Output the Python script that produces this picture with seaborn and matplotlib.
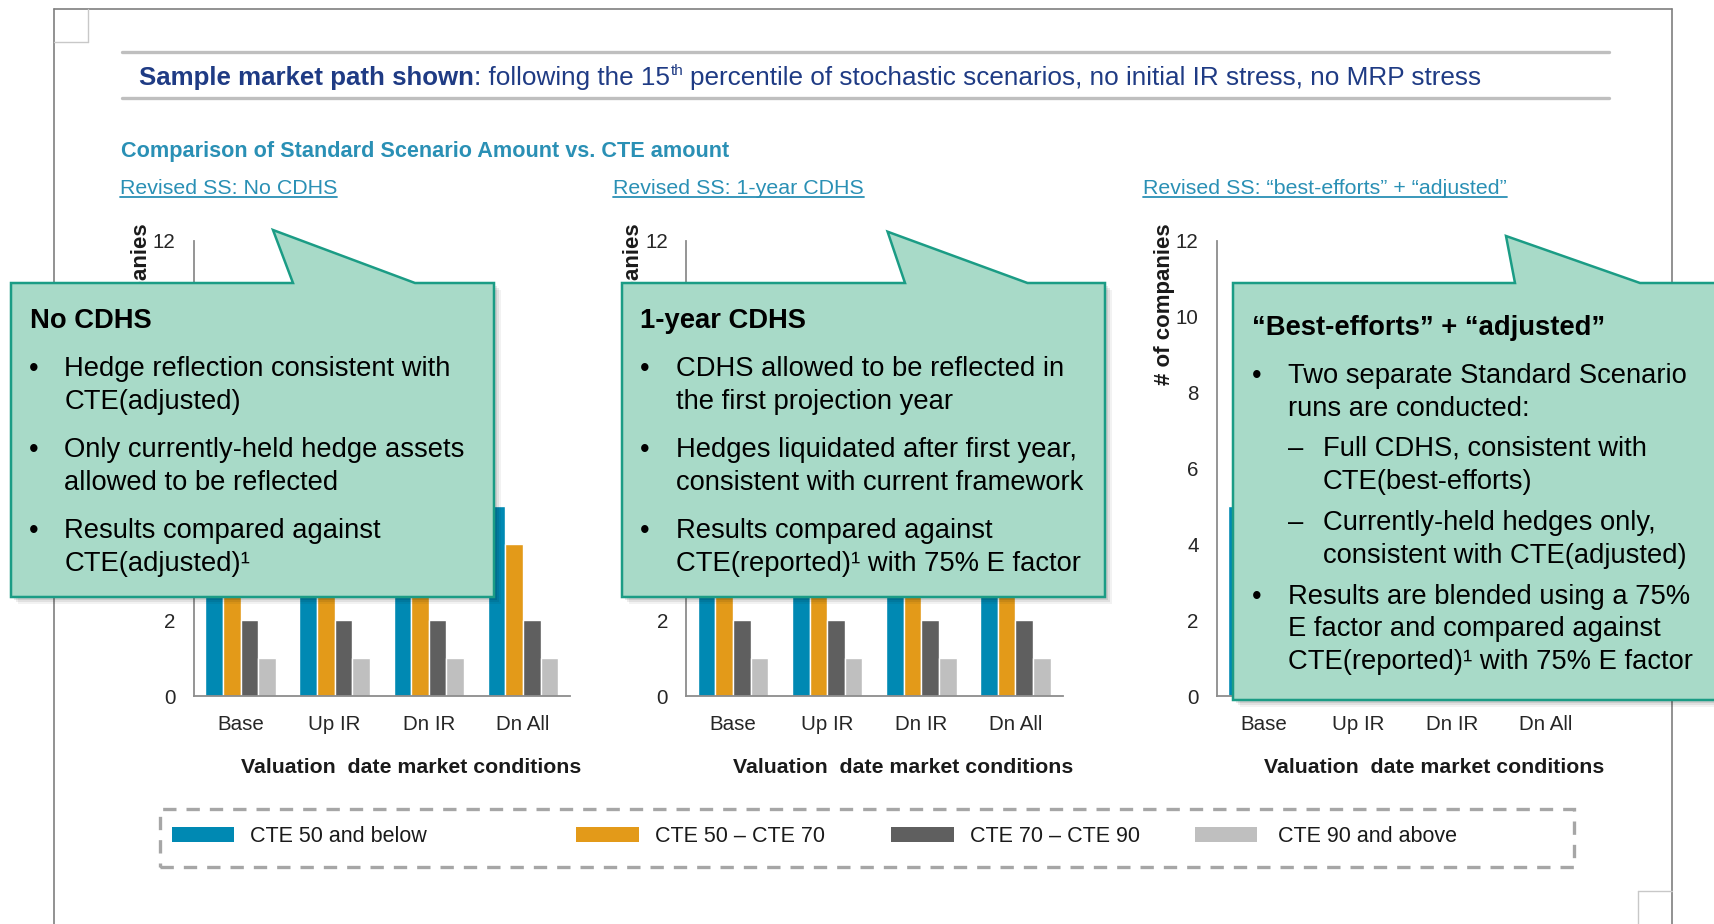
import matplotlib
matplotlib.use("Agg")
import numpy as np
import pandas as pd
import seaborn as sns
import matplotlib.pyplot as plt
from matplotlib.patches import Polygon, Rectangle
from matplotlib.lines import Line2D

# ---- data (bars hidden by the callouts assumed 5/4/2/1 = 12 companies)
categories = ["Base", "Up IR", "Dn IR", "Dn All"]
bands = ["CTE 50 and below", "CTE 50 \u2013 CTE 70", "CTE 70 \u2013 CTE 90", "CTE 90 and above"]
band_colors = ["#0089b3", "#e39a19", "#5f5f5f", "#bfbfbf"]

# rows follow `bands`, columns follow `categories`
no_cdhs = [[5, 5, 5, 5], [4, 4, 4, 4], [2, 2, 2, 2], [1, 1, 1, 1]]
one_year_cdhs = [[5, 5, 5, 5], [4, 4, 4, 4], [2, 2, 2, 2], [1, 1, 1, 1]]
best_efforts_adjusted = [[5, 5, 5, 5], [4, 4, 4, 4], [2, 2, 2, 2], [1, 1, 1, 1]]

panel_titles = ["Revised SS: No CDHS", "Revised SS: 1-year CDHS",
                "Revised SS: \u201cbest-efforts\u201d + \u201cadjusted\u201d"]
y_ticks = [0, 2, 4, 6, 8, 10, 12]

W, H = 1714, 924
sns.set_style("white")
plt.rcParams["font.family"] = ["Liberation Sans", "DejaVu Sans"]

fig = plt.figure(figsize=(W / 100, H / 100), dpi=100)
fig.patch.set_facecolor("white")


def fx(x):
    return x / W


def fy(y):
    return 1 - y / H


def to_frame(counts):
    rows = []
    for band, vals in zip(bands, counts):
        for cat, v in zip(categories, vals):
            rows.append({"condition": cat, "band": band, "companies": v})
    return pd.DataFrame(rows)


def hline(x0, x1, y, **kw):
    fig.add_artist(Line2D([fx(x0), fx(x1)], [fy(y), fy(y)], transform=fig.transFigure, **kw))


def vline(x, y0, y1, **kw):
    fig.add_artist(Line2D([fx(x), fx(x)], [fy(y0), fy(y1)], transform=fig.transFigure, **kw))


# ---- page frame
frame_c = "#7f7f7f"
vline(53.6, 8.7, 930, color=frame_c, lw=1.2, zorder=1)
hline(53.6, 1672, 8.7, color=frame_c, lw=1.2, zorder=1)
vline(1672, 8.7, 930, color=frame_c, lw=1.2, zorder=1)
vline(87.5, 8.7, 41.5, color="#c8c8c8", lw=1, zorder=1)
hline(53.6, 87.5, 41.5, color="#c8c8c8", lw=1, zorder=1)
vline(1637.5, 891, 930, color="#c8c8c8", lw=1, zorder=1)
hline(1637.5, 1672, 891, color="#c8c8c8", lw=1, zorder=1)

# ---- header band
hline(122.4, 1609, 52, color="#bfbfbf", lw=2.4, zorder=1)
hline(122.4, 1609, 98.4, color="#bfbfbf", lw=2.4, zorder=1)

renderer = fig.canvas.get_renderer()
navy = "#1f3b84"


def run(x, y, s, **kw):
    t = fig.text(fx(x), fy(y), s, va="baseline", ha="left", **kw)
    return t.get_window_extent(renderer).x1


hx = run(139, 84.5, "Sample market path shown", fontsize=18.6, fontweight="bold", color=navy)
hx = run(hx, 84.5, ": following the 15", fontsize=18.8, color=navy)
hx = run(hx + 0.5, 75, "th", fontsize=11, color=navy)
run(hx + 7, 84.5, "percentile of stochastic scenarios, no initial IR stress, no MRP stress",
    fontsize=18.8, color=navy)

teal = "#2a90b5"
fig.text(fx(121), fy(157), "Comparison of Standard Scenario Amount vs. CTE amount",
         fontsize=15.6, fontweight="bold", color=teal, va="baseline")

# ---- three bar panels
panel_left = [193.5, 686, 1216.6]
panel_data = [no_cdhs, one_year_cdhs, best_efforts_adjusted]
title_x = [120, 613, 1143]
spine_c = "#8c8c8c"

for i, (left, counts, title, tx) in enumerate(zip(panel_left, panel_data, panel_titles, title_x)):
    ax = fig.add_axes([fx(left), fy(696), 376.5 / W, (696 - 240.5) / H])
    ax.set_zorder(0)
    sns.barplot(data=to_frame(counts), x="condition", y="companies", hue="band",
                order=categories, hue_order=bands, palette=band_colors, saturation=1,
                width=0.75, gap=0, edgecolor="white", linewidth=1,
                errorbar=None, legend=False, ax=ax)
    ax.set_xlim(-0.5, 3.5)
    ax.set_ylim(0, 12)
    ax.set_yticks(y_ticks)
    ax.set_xticks(range(len(categories)))
    ax.set_xticklabels(categories)
    ax.set_xticks(np.arange(-0.5, len(categories), 1), minor=True)
    ax.tick_params(axis="x", which="major", length=0, pad=14, labelsize=14.8, labelcolor="#262626")
    ax.tick_params(axis="x", which="minor", length=6, width=1.2, color=spine_c, direction="out")
    ax.tick_params(axis="y", length=0, pad=13, labelsize=14.8, labelcolor="#262626")
    if i < 2:
        # these tick labels sit behind the callout boxes
        for lab, v in zip(ax.get_yticklabels(), y_ticks):
            if 2 < v < 12:
                lab.set_visible(False)
    for side in ["top", "right"]:
        ax.spines[side].set_visible(False)
    for side in ["left", "bottom"]:
        ax.spines[side].set_color(spine_c)
        ax.spines[side].set_linewidth(1.3)
    ax.set_xlabel("Valuation  date market conditions", fontsize=15.3, fontweight="bold",
                  color="#1a1a1a", va="center")
    ax.xaxis.set_label_coords(0.578, -0.156)
    ax.set_ylabel("# of companies", fontsize=16, fontweight="bold", color="#1a1a1a", va="center")
    ax.yaxis.set_label_coords(-0.139, 0.86)
    ax.patch.set_alpha(0)

    t = fig.text(fx(tx), fy(193.7), title, fontsize=15.4, color=teal, va="baseline")
    bb = t.get_window_extent(renderer)
    hline(bb.x0, bb.x1, 197, color=teal, lw=1.3, zorder=3)

# ---- legend in dashed box
fig.add_artist(Rectangle((fx(159.6), fy(867)), (1574 - 159.6) / W, (867 - 809) / H,
                         transform=fig.transFigure, fill=False, edgecolor="#a6a6a6",
                         lw=2.4, linestyle=(0, (4, 3)), zorder=2))
leg_patch_x = [171.6, 576, 891, 1194.7]
leg_text_x = [250, 654.8, 969.6, 1277.9]
for px, tx, band, col in zip(leg_patch_x, leg_text_x, bands, band_colors):
    fig.add_artist(Rectangle((fx(px), fy(842)), 62.5 / W, 15.5 / H, transform=fig.transFigure,
                             facecolor=col, edgecolor="none", zorder=2))
    fig.text(fx(tx), fy(842), band, fontsize=15.5, color="#1a1a1a", va="baseline")

# ---- callouts
fill_c = "#a8dac8"
edge_c = "#1b9c85"


def callout(L, R, T, B, base_l, tip, base_r):
    pts = [(L, T), (base_l, T), tip, (base_r, T), (R, T), (R, B), (L, B)]
    for off, a in [(7, 0.05), (5, 0.07), (3, 0.09)]:
        sh = [(fx(x + off), fy(y + off)) for x, y in pts]
        fig.add_artist(Polygon(sh, closed=True, transform=fig.transFigure,
                               facecolor="black", alpha=a, edgecolor="none", zorder=5))
    fig.add_artist(Polygon([(fx(x), fy(y)) for x, y in pts], closed=True,
                           transform=fig.transFigure, facecolor=fill_c,
                           edgecolor=edge_c, lw=1.8, zorder=6))


def ctext(x, y, s, bold=False):
    fig.text(fx(x), fy(y + 9), s, fontsize=19.7, color="black", va="baseline",
             fontweight="bold" if bold else "normal", zorder=7)


callout(11, 494, 283, 597, 293, (273, 230), 415)
callout(622, 1105, 283, 597, 905, (887.6, 231.7), 1027.5)
callout(1233, 1740, 283, 700, 1515, (1506, 236), 1640)

ctext(29.5, 319, "No CDHS", bold=True)
for y, s, b in [(367.3, "Hedge reflection consistent with", True), (400, "CTE(adjusted)", False),
                (448, "Only currently-held hedge assets", True), (481, "allowed to be reflected", False),
                (529, "Results compared against", True), (562, "CTE(adjusted)\u00b9", False)]:
    if b:
        ctext(29, y, "\u2022")
    ctext(64.5, y, s)

ctext(639.5, 319, "1-year CDHS", bold=True)
for y, s, b in [(367.3, "CDHS allowed to be reflected in", True), (400, "the first projection year", False),
                (448, "Hedges liquidated after first year,", True),
                (481, "consistent with current framework", False),
                (529, "Results compared against", True),
                (562, "CTE(reported)\u00b9 with 75% E factor", False)]:
    if b:
        ctext(639.5, y, "\u2022")
    ctext(675.5, y, s)

ctext(1251.5, 326, "\u201cBest-efforts\u201d + \u201cadjusted\u201d", bold=True)
for y, s, b in [(374, "Two separate Standard Scenario", True), (406.6, "runs are conducted:", False),
                (594.6, "Results are blended using a 75%", True),
                (627.4, "E factor and compared against", False),
                (660, "CTE(reported)\u00b9 with 75% E factor", False)]:
    if b:
        ctext(1251.5, y, "\u2022")
    ctext(1288, y, s)
for y, s, b in [(447, "Full CDHS, consistent with", True), (480, "CTE(best-efforts)", False),
                (521, "Currently-held hedges only,", True),
                (554, "consistent with CTE(adjusted)", False)]:
    if b:
        ctext(1288, y, "\u2013")
    ctext(1323, y, s)

fig.savefig("out.png", dpi=100, facecolor="white")
